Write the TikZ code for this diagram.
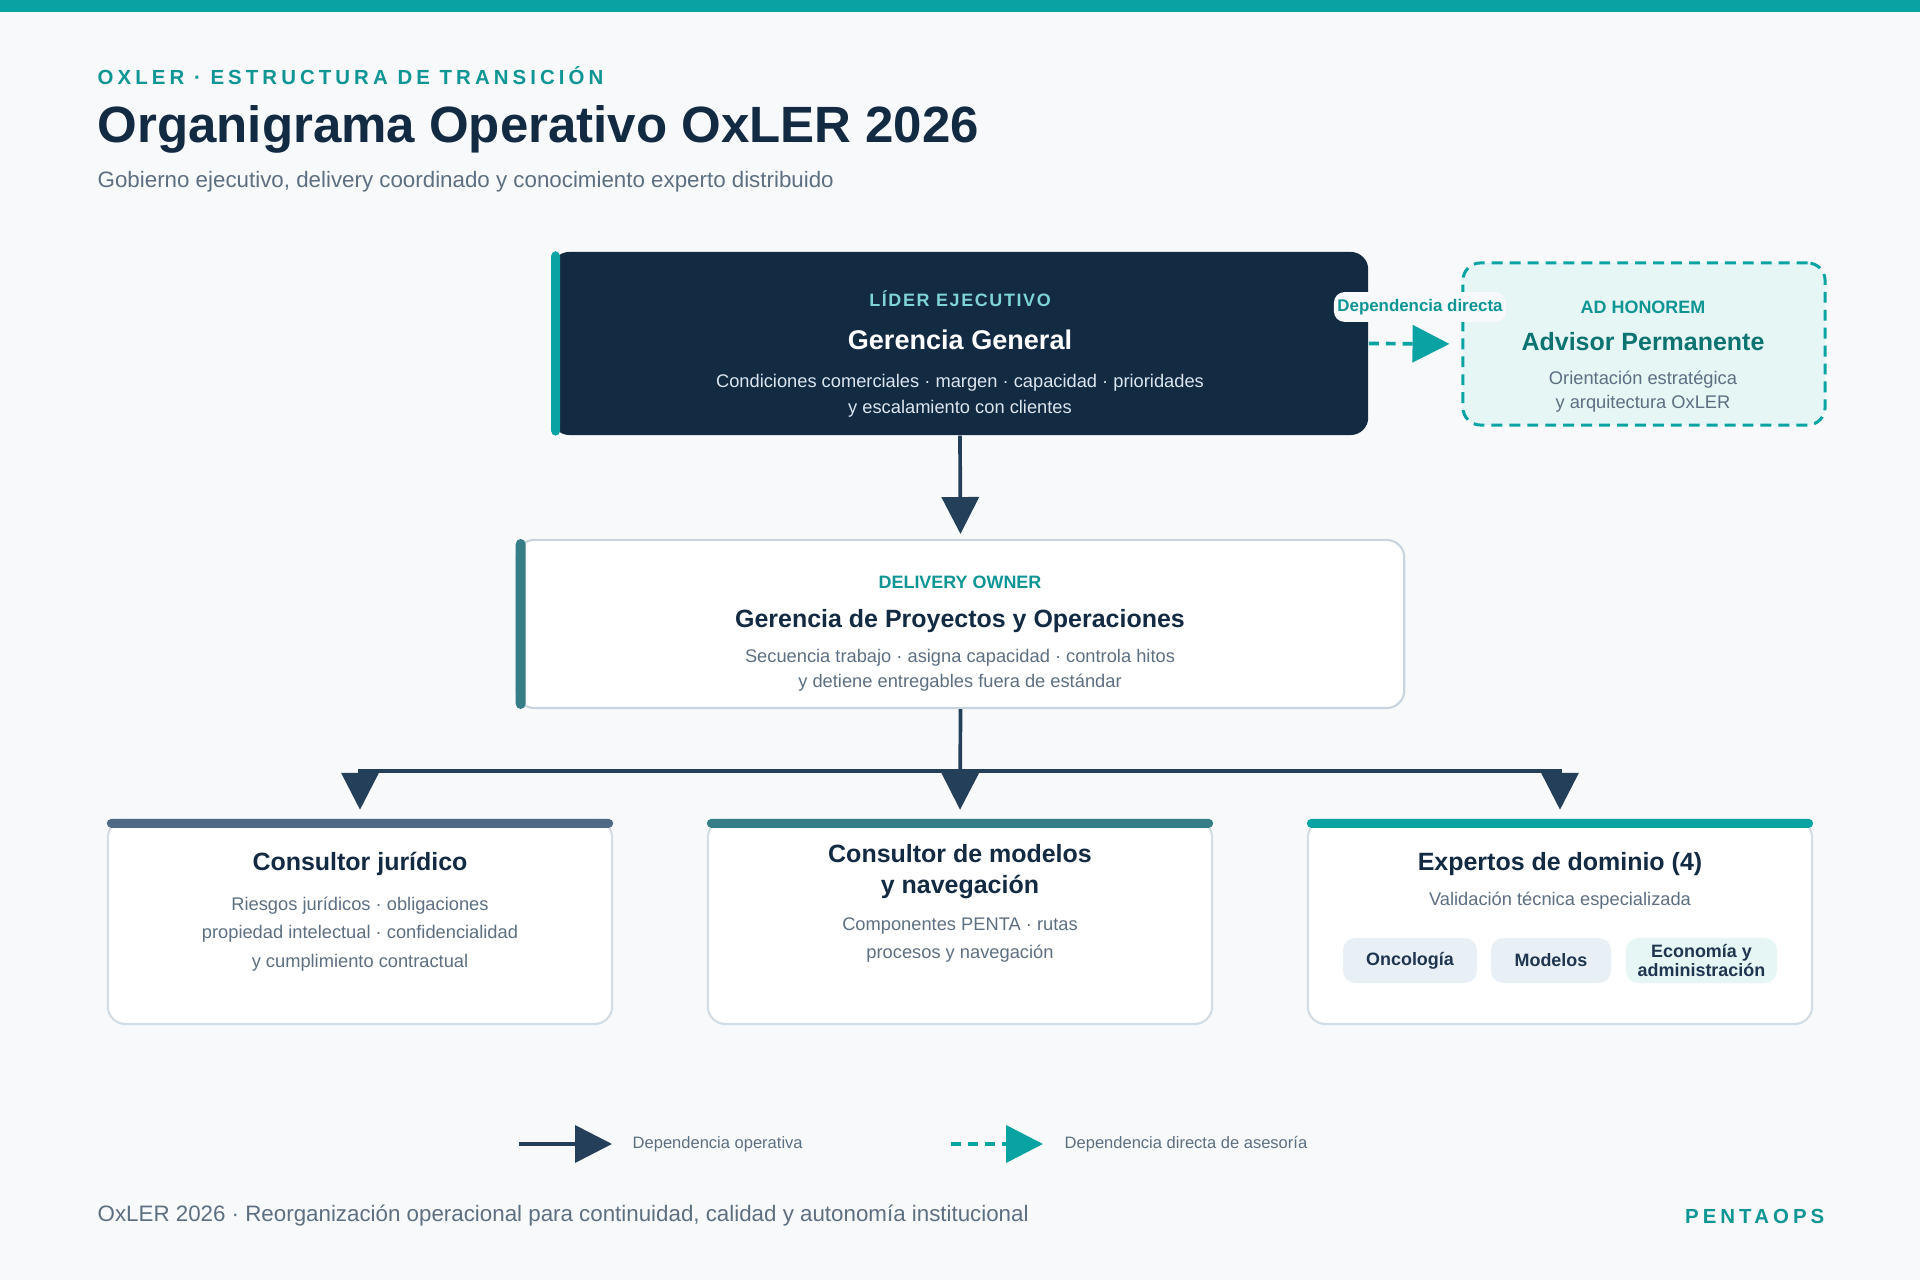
\documentclass[tikz,border=0pt]{standalone}
\usepackage{fontspec}
\setmainfont{Liberation Sans}
\newfontfamily\wideface[LetterSpace=20]{Liberation Sans}
\newfontfamily\semiwideface[LetterSpace=9]{Liberation Sans}
\usetikzlibrary{arrows.meta}
\definecolor{bg}{HTML}{F7F9FB}
\definecolor{tealbar}{HTML}{0AA3A3}
\definecolor{tealtxt}{HTML}{0E9594}
\definecolor{navy}{HTML}{132A43}
\definecolor{slate}{HTML}{5D6F82}
\definecolor{arrowc}{HTML}{243F5A}
\definecolor{lightteal}{HTML}{7ED3D6}
\definecolor{paletxt}{HTML}{DCE5EE}
\definecolor{advfill}{HTML}{E5F6F5}
\definecolor{advtitle}{HTML}{0C7370}
\definecolor{cardline}{HTML}{D3DDE6}
\definecolor{ownerline}{HTML}{C8D5E1}
\definecolor{deepteal}{HTML}{357E87}
\definecolor{steel}{HTML}{4D6985}
\definecolor{chipfill}{HTML}{E8F0F5}
\definecolor{chiptxt}{HTML}{1F3550}
\begin{document}
\begin{tikzpicture}[x=0.01cm, y=-0.01cm,
    txt/.style={inner sep=0, align=center},
    kicker/.style={txt, font=\fontsize{5.1pt}{6pt}\selectfont\bfseries},
    head/.style={txt, text=navy, font=\fontsize{7.1pt}{8.8pt}\selectfont\bfseries},
    desc/.style={txt, text=slate, font=\fontsize{5.2pt}{8.1pt}\selectfont},
    box/.style={rectangle, inner sep=0, rounded corners=5pt},
    card/.style={box, draw=cardline, line width=0.6pt, fill=white, minimum width=5.04cm, minimum height=2.04cm},
    chip/.style={txt, fill=chipfill, rounded corners=3.5pt, minimum height=0.45cm, text=chiptxt, font=\fontsize{5.1pt}{5.4pt}\selectfont\bfseries},
    opr/.style={draw=arrowc, line width=1.05pt, -{Triangle[length=10.5pt,width=10.5pt]}},
    advise/.style={draw=tealbar, line width=1.05pt, dash pattern=on 2.8pt off 2pt, -{Triangle[length=10.5pt,width=10.5pt]}}]
    % page: 1 unit = 1 px of the 1920 x 1280 frame, y grows downwards
    \useasboundingbox (0,0) rectangle (1920,1280);
    \fill[bg] (0,0) rectangle (1920,1280);
    \fill[tealbar] (0,0) rectangle (1920,12);
    % heading
    \node[txt, anchor=west, text=tealtxt, font=\wideface\fontsize{5.8pt}{7pt}\selectfont\bfseries] (eyebrow) at (97,76) {OXLER · ESTRUCTURA DE TRANSICIÓN};
    \node[txt, anchor=west, text=navy, font=\fontsize{14.5pt}{17pt}\selectfont\bfseries] (title) at (97,129) {Organigrama Operativo OxLER 2026};
    \node[txt, anchor=west, text=slate, font=\fontsize{6.35pt}{7.5pt}\selectfont] (subtitle) at (97,182) {Gobierno ejecutivo, delivery coordinado y conocimiento experto distribuido};
    % executive level
    \node[box, fill=navy, minimum width=8.16cm, minimum height=1.83cm] (gg) at (960,343.5) {};
    \fill[tealbar, rounded corners=1.4pt] (gg.north west) rectangle ([xshift=0.09cm]gg.south west);
    \node[txt, text=lightteal, font=\semiwideface\fontsize{5.1pt}{6pt}\selectfont\bfseries] (ggtag) at (960,299) {LÍDER EJECUTIVO};
    \node[txt, text=white, font=\fontsize{7.7pt}{9pt}\selectfont\bfseries] (ggname) at (960,340) {Gerencia General};
    \node[txt, text=paletxt, font=\fontsize{5.2pt}{7.4pt}\selectfont] (ggdesc) at (960,396) {Condiciones comerciales · margen · capacidad · prioridades\\y escalamiento con clientes};
    % advisor
    \node[box, fill=advfill, draw=tealbar, line width=0.85pt, dash pattern=on 3.1pt off 2pt, minimum width=3.62cm, minimum height=1.62cm] (advisor) at (1644,344) {};
    \node[kicker, text=tealtxt] (advtag) at (1643,307) {AD HONOREM};
    \node[head, text=advtitle] (advname) at (1643,342) {Advisor Permanente};
    \node[desc, font=\fontsize{5.2pt}{6.9pt}\selectfont] (advdesc) at (1643,392) {Orientación estratégica\\y arquitectura OxLER};
    \draw[advise, shorten >=3.4pt] (gg.east) -- (advisor.west);
    \node[txt, fill=bg, rounded corners=3pt, inner xsep=1pt, inner ysep=2pt, text=tealtxt, font=\fontsize{4.8pt}{5.5pt}\selectfont\bfseries] (deplbl) at (1420,307) {Dependencia directa};
    % delivery owner
    \node[box, fill=white, draw=ownerline, line width=0.6pt, minimum width=8.87cm, minimum height=1.68cm] (gpo) at (960.5,624) {};
    \fill[deepteal, rounded corners=1.5pt] (gpo.north west) rectangle ([xshift=0.1cm]gpo.south west);
    \node[kicker, text=tealtxt] (gpotag) at (960,582) {DELIVERY OWNER};
    \node[head] (gponame) at (960,621) {Gerencia de Proyectos y Operaciones};
    \node[desc, font=\fontsize{5.2pt}{7.1pt}\selectfont] (gpodesc) at (960,670.5) {Secuencia trabajo · asigna capacidad · controla hitos\\y detiene entregables fuera de estándar};
    \draw[opr, shorten >=1.4pt] (gg.south) -- (gpo.north);
    % consultants
    \node[card] (jur) at (360,922) {};
    \node[card] (mod) at (960,922) {};
    \node[card] (dom) at (1560,922) {};
    \fill[steel, rounded corners=1.3pt] (jur.north west) rectangle ([yshift=-0.09cm]jur.north east);
    \fill[deepteal, rounded corners=1.3pt] (mod.north west) rectangle ([yshift=-0.09cm]mod.north east);
    \fill[tealbar, rounded corners=1.3pt] (dom.north west) rectangle ([yshift=-0.09cm]dom.north east);
    \coordinate (bus) at (960,771);
    \draw[opr, shorten >=2.6pt] (gpo.south) -- (mod.north);
    \draw[opr, shorten >=2.6pt] (bus) -| (jur.north);
    \draw[opr, shorten >=2.6pt] (bus) -| (dom.north);
    \node[head] (jurname) at (360,864) {Consultor jurídico};
    \node[desc] (jurdesc) at (360,934) {Riesgos jurídicos · obligaciones\\propiedad intelectual · confidencialidad\\y cumplimiento contractual};
    \node[head] (modname) at (960,872) {Consultor de modelos\\y navegación};
    \node[desc] (moddesc) at (960,940) {Componentes PENTA · rutas\\procesos y navegación};
    \node[head] (domname) at (1560,864) {Expertos de dominio (4)};
    \node[desc] (domdesc) at (1560,901) {Validación técnica especializada};
    \node[chip, minimum width=1.34cm] (onco) at (1410,960.5) {Oncología};
    \node[chip, minimum width=1.2cm] (modelos) at (1551,960.5) {Modelos};
    \node[chip, fill=advfill, minimum width=1.51cm] (econ) at (1701.5,960.5) {Economía y\\administración};
    % legend
    \coordinate (opA) at (519,1144);
    \coordinate (opB) at (612,1144);
    \coordinate (asA) at (951,1144);
    \coordinate (asB) at (1043,1144);
    \draw[opr] (opA) -- (opB);
    \draw[advise] (asA) -- (asB);
    \node[txt, anchor=west, text=slate, font=\fontsize{4.7pt}{5.5pt}\selectfont] (oplbl) at (632,1144) {Dependencia operativa};
    \node[txt, anchor=west, text=slate, font=\fontsize{4.7pt}{5.5pt}\selectfont] (aslbl) at (1064,1144) {Dependencia directa de asesoría};
    % footer
    \node[txt, anchor=west, text=slate, font=\fontsize{6.35pt}{7.5pt}\selectfont] (footer) at (97,1216) {OxLER 2026 · Reorganización operacional para continuidad, calidad y autonomía institucional};
    \node[txt, anchor=east, text=tealtxt, font=\wideface\fontsize{5.8pt}{7pt}\selectfont\bfseries] (brand) at (1825,1216) {PENTAOPS};
\end{tikzpicture}
\end{document}
